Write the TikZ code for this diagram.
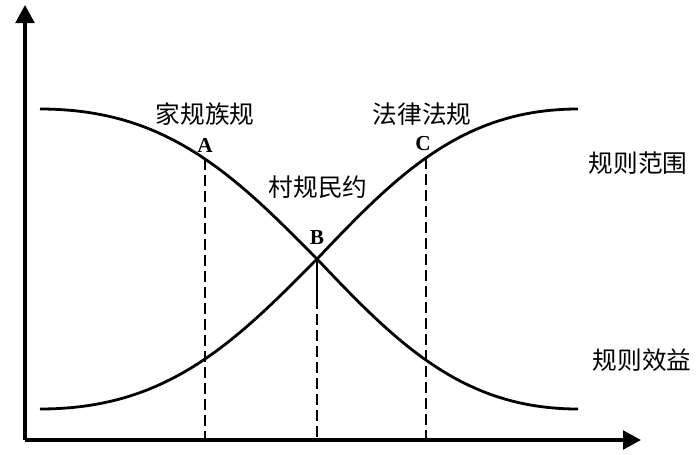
\documentclass[tikz,border=0pt]{standalone}
\usepackage{fontspec}
\newfontfamily\cjk{Noto Sans CJK SC}
\newfontfamily\latserif{Liberation Serif}
\usetikzlibrary{arrows.meta}
\begin{document}
\begin{tikzpicture}[x=0.75pt,y=-0.75pt,
  axisline/.style={line width=2.4pt,-{Triangle[length=13.5pt,width=14pt]}},
  curveline/.style={line width=2.1pt},
  guide/.style={line width=1.5pt,dash pattern=on 8pt off 4pt},
  guidesolid/.style={line width=1.5pt},
  cjklabel/.style={font=\cjk\fontsize{18.5}{20}\selectfont,inner sep=0pt},
  ptlabel/.style={font=\latserif\bfseries\fontsize{16}{17}\selectfont,inner sep=0pt}
]
\useasboundingbox (0,0) rectangle (700,454);
\pgfmathsetmacro{\kk}{0.005}
\pgfmathsetmacro{\TL}{tanh(\kk*277)}
\pgfmathsetmacro{\TR}{tanh(\kk*261)}
\pgfmathsetmacro{\cL}{\kk*(1-\TL*\TL)}
\pgfmathsetmacro{\cR}{\kk*(1-\TR*\TR)}
\pgfmathsetmacro{\GL}{\TL-277*\cL}
\pgfmathsetmacro{\GR}{\TR-261*\cR}
% axes
\coordinate (O) at (25,440);
\coordinate (ytop) at (25,5);
\coordinate (xend) at (641,440);
\draw[axisline] (O) -- (ytop);
\draw[axisline] (O) -- (xend);
% curves
\draw[curveline] plot[domain=40:317,samples=120,smooth] (\x,{259-150*(tanh(\kk*(317-\x))-\cL*(317-\x))/\GL})
  -- plot[domain=317:578,samples=120,smooth] (\x,{259-150*(tanh(\kk*(317-\x))-\cR*(317-\x))/\GR});
\draw[curveline] plot[domain=40:317,samples=120,smooth] (\x,{259+150*(tanh(\kk*(317-\x))-\cL*(317-\x))/\GL})
  -- plot[domain=317:578,samples=120,smooth] (\x,{259+150*(tanh(\kk*(317-\x))-\cR*(317-\x))/\GR});
% points
\coordinate (A) at (205,{259-150*(tanh(\kk*112)-\cL*112)/\GL});
\coordinate (B) at (317,259);
\coordinate (Bs) at (317,298);
\coordinate (C) at (426,{259-150*(tanh(\kk*109)-\cR*109)/\GR});
\coordinate (Ax) at (205,440);
\coordinate (Bx) at (317,440);
\coordinate (Cx) at (426,440);
\draw[guide] (A) -- (Ax);
\draw[guidesolid] (B) -- (Bs);
\draw[guide] (Bs) -- (Bx);
\draw[guide] (C) -- (Cx);
% labels
\node[ptlabel] (la) at (205,145) {A};
\node[ptlabel] (lb) at (317,238) {B};
\node[ptlabel] (lc) at (423,144) {C};
\node[cjklabel] (t1) at (205,114) {家规族规};
\node[cjklabel] (t2) at (318,187) {村规民约};
\node[cjklabel] (t3) at (422,114) {法律法规};
\node[cjklabel] (t4) at (638,163) {规则范围};
\node[cjklabel] (t5) at (642,360) {规则效益};
\end{tikzpicture}
\end{document}
